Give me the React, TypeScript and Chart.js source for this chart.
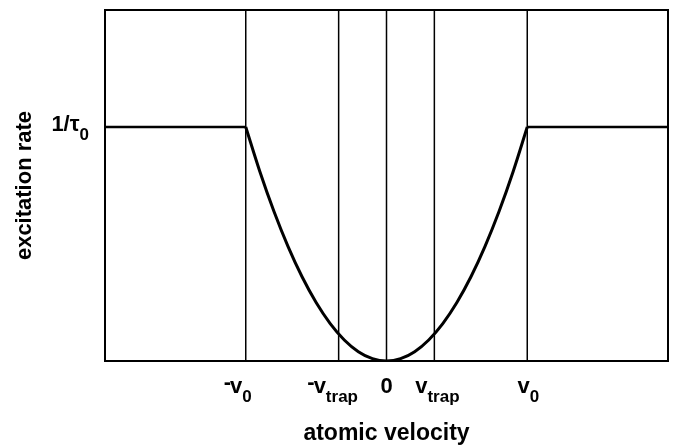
import React, { useEffect, useRef } from "react";
import { Chart, registerables } from "chart.js";

Chart.register(...registerables);

// ---- data (velocity in units of v0, rate in units of 1/tau0) ----
const X_MIN = -2;
const X_MAX = 2;
const Y_MIN = 0;
const Y_MAX = 1.5;

const markerVelocities = [-1, -0.34, 0, 0.34, 1];
const markerPrefix = ["-", "-", "", "", ""];
const markerMain = ["v", "v", "0", "v", "v"];
const markerSub = ["0", "trap", "", "trap", "0"];
const markerShift = [-8, -6, 0, 3, 1];

const plateauLevel = 1;
const leftPlateauV = [-2, -1];
const rightPlateauV = [1, 2];

const curveV = [-1, -0.9, -0.8, -0.7, -0.6, -0.5, -0.4, -0.3, -0.2, -0.1, 0, 0.1, 0.2, 0.3, 0.4, 0.5, 0.6, 0.7, 0.8, 0.9, 1];
const curveRate = [1, 0.81, 0.64, 0.49, 0.36, 0.25, 0.16, 0.09, 0.04, 0.01, 0, 0.01, 0.04, 0.09, 0.16, 0.25, 0.36, 0.49, 0.64, 0.81, 1];

const yTickValue = 1;
const yTickMain = "1/\u03C4";
const yTickSub = "0";

const xTitle = "atomic velocity";
const yTitle = "excitation rate";

const FONT = "'Liberation Sans', Arial, Helvetica, sans-serif";
const W = "bold";

function drawSubLabel(
  ctx: CanvasRenderingContext2D,
  prefix: string,
  main: string,
  sub: string,
  x: number,
  baseline: number,
  mainSize: number,
  subSize: number,
  drop: number,
  align: "center" | "right"
) {
  ctx.textAlign = "left";
  ctx.textBaseline = "alphabetic";
  ctx.font = `${W} ${mainSize}px ${FONT}`;
  const wp = prefix ? ctx.measureText(prefix).width - 1 : 0;
  const wm = ctx.measureText(main).width;
  ctx.font = `${W} ${subSize}px ${FONT}`;
  const ws = sub ? ctx.measureText(sub).width : 0;
  const total = wp + wm + ws;
  const start = align === "center" ? x - total / 2 : x - total;
  ctx.font = `${W} ${mainSize}px ${FONT}`;
  if (prefix) ctx.fillText(prefix, start, baseline - 4);
  ctx.fillText(main, start + wp, baseline);
  if (sub) {
    ctx.font = `${W} ${subSize}px ${FONT}`;
    ctx.fillText(sub, start + wp + wm, baseline + drop);
  }
}

const decorPlugin = {
  id: "decor",
  afterDraw(chart: any) {
    const { ctx, chartArea, scales } = chart;
    const { left, right, top, bottom } = chartArea;
    ctx.save();
    ctx.strokeStyle = "#000";
    ctx.lineWidth = 2;
    ctx.strokeRect(left, top, right - left, bottom - top);
    ctx.fillStyle = "#000";
    markerVelocities.forEach((v, i) => {
      const px = scales.x.getPixelForValue(v) + markerShift[i];
      drawSubLabel(ctx, markerPrefix[i], markerMain[i], markerSub[i], px, 393, 22, 17, 9, "center");
    });
    const yPix = scales.y.getPixelForValue(yTickValue);
    drawSubLabel(ctx, "", yTickMain, yTickSub, 89, yPix + 4, 22, 17, 9, "right");
    ctx.font = `${W} 23px ${FONT}`;
    ctx.textAlign = "center";
    ctx.textBaseline = "alphabetic";
    ctx.fillText(xTitle, (left + right) / 2, 440);
    ctx.font = `${W} 22px ${FONT}`;
    ctx.translate(25, (top + bottom) / 2);
    ctx.rotate(-Math.PI / 2);
    ctx.textBaseline = "middle";
    ctx.fillText(yTitle, 0, 0);
    ctx.restore();
  },
};

export default function App() {
  const ref = useRef<HTMLCanvasElement | null>(null);
  useEffect(() => {
    if (!ref.current) return;
    const vertical = markerVelocities.map((v) => ({
      data: [
        { x: v, y: Y_MIN },
        { x: v, y: Y_MAX },
      ],
      borderColor: "#000",
      borderWidth: 1.5,
      pointRadius: 0,
      showLine: true,
    }));
    const chart = new Chart(ref.current, {
      type: "scatter",
      data: {
        datasets: [
          ...vertical,
          {
            data: leftPlateauV.map((v) => ({ x: v, y: plateauLevel })),
            borderColor: "#000",
            borderWidth: 2.5,
            pointRadius: 0,
            showLine: true,
          },
          {
            data: rightPlateauV.map((v) => ({ x: v, y: plateauLevel })),
            borderColor: "#000",
            borderWidth: 2.5,
            pointRadius: 0,
            showLine: true,
          },
          {
            data: curveV.map((v, i) => ({ x: v, y: curveRate[i] })),
            borderColor: "#000",
            borderWidth: 3,
            pointRadius: 0,
            showLine: true,
            cubicInterpolationMode: "monotone",
          },
        ] as any,
      },
      options: {
        animation: false,
        responsive: true,
        maintainAspectRatio: false,
        layout: { padding: { left: 105, right: 10, top: 10, bottom: 85 } },
        plugins: { legend: { display: false }, tooltip: { enabled: false } },
        scales: {
          x: { type: "linear", min: X_MIN, max: X_MAX, display: false },
          y: { type: "linear", min: Y_MIN, max: Y_MAX, display: false },
        },
      },
      plugins: [decorPlugin],
    });
    return () => chart.destroy();
  }, []);
  return (
    <div style={{ position: "fixed", left: 0, top: 0, width: 678, height: 446, background: "#fff" }}>
      <canvas ref={ref} />
    </div>
  );
}
